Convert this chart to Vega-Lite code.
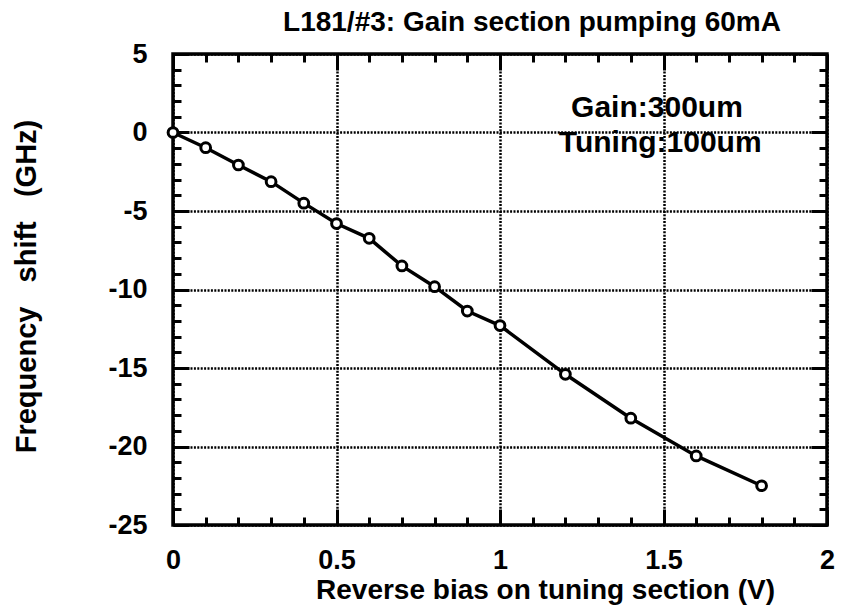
{
  "$schema": "https://vega.github.io/schema/vega-lite/v6.json",
  "width": 654,
  "height": 471,
  "autosize": {"type": "none"},
  "padding": {"left": 173, "top": 54, "right": 18, "bottom": 84},
  "background": "white",
  "config": {
    "view": {"stroke": "black", "strokeWidth": 3.5},
    "font": "Liberation Sans",
    "axis": {
      "labelFont": "Liberation Sans",
      "titleFont": "Liberation Sans",
      "labelFontWeight": "bold",
      "titleFontWeight": "bold",
      "labelColor": "black",
      "titleColor": "black",
      "domain": false,
      "labelFlush": false,
      "labelOverlap": false,
      "labelBound": false
    }
  },
  "title": {
    "text": "L181/#3: Gain section pumping 60mA",
    "fontSize": 28,
    "font": "Liberation Sans",
    "fontWeight": "bold",
    "color": "black",
    "anchor": "middle",
    "dx": 32,
    "offset": -19,
    "baseline": "alphabetic"
  },
  "data": {
    "values": [
      {"bias": 0.0, "shift": 0.0},
      {"bias": 0.1, "shift": -0.97},
      {"bias": 0.2, "shift": -2.07},
      {"bias": 0.3, "shift": -3.13},
      {"bias": 0.4, "shift": -4.5},
      {"bias": 0.5, "shift": -5.8},
      {"bias": 0.6, "shift": -6.74},
      {"bias": 0.7, "shift": -8.5},
      {"bias": 0.8, "shift": -9.82},
      {"bias": 0.9, "shift": -11.37},
      {"bias": 1.0, "shift": -12.3},
      {"bias": 1.2, "shift": -15.4},
      {"bias": 1.4, "shift": -18.2},
      {"bias": 1.6, "shift": -20.6},
      {"bias": 1.8, "shift": -22.5}
    ]
  },
  "resolve": {"axis": {"x": "independent", "y": "independent"}},
  "layer": [
    {
      "mark": {"type": "line", "color": "black", "strokeWidth": 3.5},
      "encoding": {
        "x": {
          "field": "bias", "type": "quantitative",
          "scale": {"domain": [0, 2], "nice": false, "zero": false},
          "axis": {
            "orient": "bottom",
            "values": [0, 0.5, 1, 1.5, 2],
            "labelExpr": "'' + datum.value",
            "labelFontSize": 27,
            "labelPadding": 22,
            "ticks": false,
            "grid": true,
            "gridColor": "black",
            "gridWidth": 2.5,
            "gridDash": [2, 1.4],
            "gridOpacity": 1,
            "title": "Reverse bias on tuning section (V)",
            "titleFontSize": 28,
            "titleX": 372,
            "titleY": 73,
            "titleAlign": "center",
            "titleBaseline": "alphabetic"
          }
        },
        "y": {
          "field": "shift", "type": "quantitative",
          "scale": {"domain": [-25, 5], "nice": false, "zero": false},
          "axis": {
            "orient": "left",
            "values": [-25, -20, -15, -10, -5, 0, 5],
            "labelExpr": "'' + datum.value",
            "labelFontSize": 27,
            "labelPadding": 26,
            "labelBaseline": "middle",
            "ticks": false,
            "grid": true,
            "gridColor": "black",
            "gridWidth": 2.5,
            "gridDash": [2, 1.4],
            "gridOpacity": 1,
            "title": "Frequency\u00a0\u00a0\u00a0shift\u00a0\u00a0\u00a0(GHz)",
            "titleFontSize": 29,
            "titleX": -138,
            "titleY": 232,
            "titleAlign": "center",
            "titleBaseline": "alphabetic",
            "titleAngle": -90
          }
        }
      }
    },
    {
      "mark": {"type": "point", "opacity": 0},
      "encoding": {
        "x": {
          "field": "bias", "type": "quantitative",
          "scale": {"domain": [0, 2], "nice": false, "zero": false},
          "axis": {
            "orient": "bottom",
            "values": [0, 0.1, 0.2, 0.3, 0.4, 0.5, 0.6, 0.7, 0.8, 0.9, 1, 1.1, 1.2, 1.3, 1.4, 1.5, 1.6, 1.7, 1.8, 1.9, 2],
            "labels": false, "grid": false, "title": null,
            "ticks": true, "tickColor": "black", "tickWidth": 3,
            "tickSize": {"condition": {"test": "abs(datum.value * 2 - round(datum.value * 2)) < 0.001", "value": -16}, "value": -8}
          }
        },
        "y": {
          "field": "shift", "type": "quantitative",
          "scale": {"domain": [-25, 5], "nice": false, "zero": false},
          "axis": {
            "orient": "left",
            "values": [-25, -24, -23, -22, -21, -20, -19, -18, -17, -16, -15, -14, -13, -12, -11, -10, -9, -8, -7, -6, -5, -4, -3, -2, -1, 0, 1, 2, 3, 4, 5],
            "labels": false, "grid": false, "title": null,
            "ticks": true, "tickColor": "black", "tickWidth": 3,
            "tickSize": {"condition": {"test": "datum.value % 5 == 0", "value": -16}, "value": -8}
          }
        }
      }
    },
    {
      "mark": {"type": "point", "opacity": 0},
      "encoding": {
        "x": {
          "field": "bias", "type": "quantitative",
          "scale": {"domain": [0, 2], "nice": false, "zero": false},
          "axis": {
            "orient": "top",
            "values": [0, 0.1, 0.2, 0.3, 0.4, 0.5, 0.6, 0.7, 0.8, 0.9, 1, 1.1, 1.2, 1.3, 1.4, 1.5, 1.6, 1.7, 1.8, 1.9, 2],
            "labels": false, "grid": false, "title": null,
            "ticks": true, "tickColor": "black", "tickWidth": 3,
            "tickSize": {"condition": {"test": "abs(datum.value * 2 - round(datum.value * 2)) < 0.001", "value": -16}, "value": -8}
          }
        },
        "y": {
          "field": "shift", "type": "quantitative",
          "scale": {"domain": [-25, 5], "nice": false, "zero": false},
          "axis": {
            "orient": "right",
            "values": [-25, -24, -23, -22, -21, -20, -19, -18, -17, -16, -15, -14, -13, -12, -11, -10, -9, -8, -7, -6, -5, -4, -3, -2, -1, 0, 1, 2, 3, 4, 5],
            "labels": false, "grid": false, "title": null,
            "ticks": true, "tickColor": "black", "tickWidth": 3,
            "tickSize": {"condition": {"test": "datum.value % 5 == 0", "value": -16}, "value": -8}
          }
        }
      }
    },
    {
      "mark": {"type": "point", "shape": "circle", "filled": false, "fill": "white", "fillOpacity": 1, "stroke": "black", "strokeWidth": 3, "size": 95, "opacity": 1},
      "encoding": {
        "x": {"field": "bias", "type": "quantitative", "scale": {"domain": [0, 2], "nice": false, "zero": false}, "axis": null},
        "y": {"field": "shift", "type": "quantitative", "scale": {"domain": [-25, 5], "nice": false, "zero": false}, "axis": null}
      }
    },
    {
      "data": {"values": [{"label": "Gain:300um", "bias": 1.48, "shift": 1.0}, {"label": "Tuning:100um", "bias": 1.49, "shift": -1.25}]},
      "mark": {"type": "text", "font": "Liberation Sans", "fontWeight": "bold", "fontSize": 30, "align": "center", "baseline": "alphabetic", "color": "black"},
      "encoding": {
        "x": {"field": "bias", "type": "quantitative", "scale": {"domain": [0, 2], "nice": false, "zero": false}, "axis": null},
        "y": {"field": "shift", "type": "quantitative", "scale": {"domain": [-25, 5], "nice": false, "zero": false}, "axis": null},
        "text": {"field": "label", "type": "nominal"}
      }
    }
  ]
}
